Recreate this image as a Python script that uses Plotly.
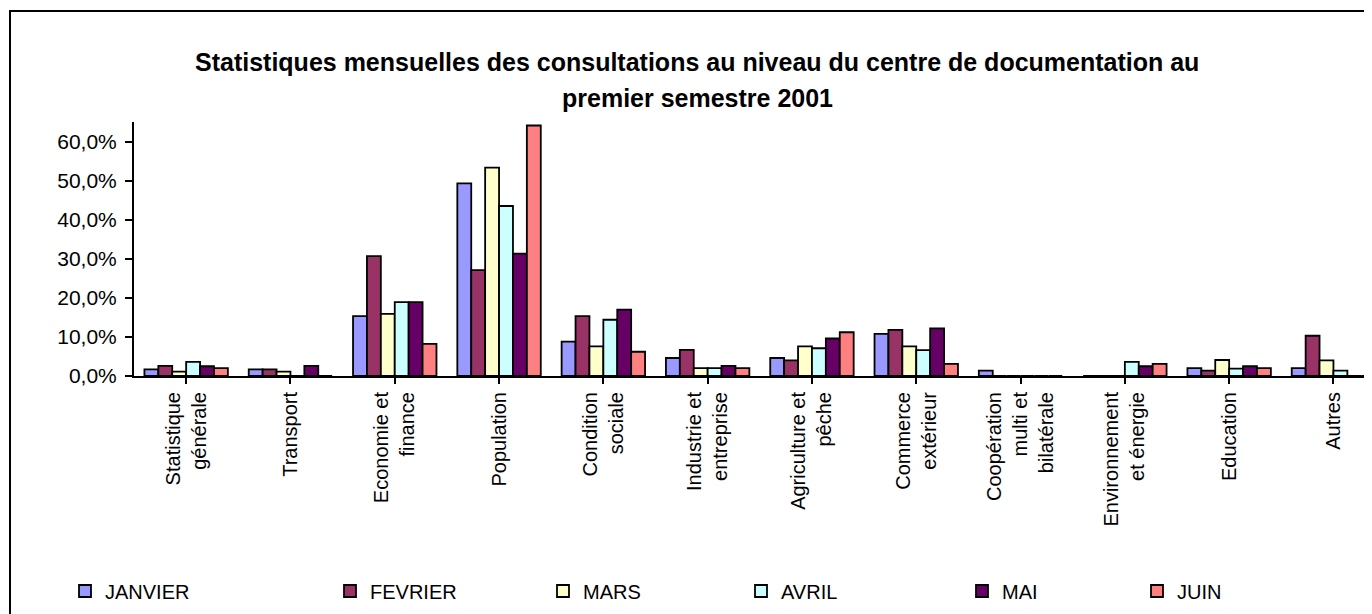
import plotly.graph_objects as go

categories = [
    "Statistique<br>générale", "Transport", "Economie et<br>finance", "Population",
    "Condition<br>sociale", "Industrie et<br>entreprise", "Agriculture et<br>pêche",
    "Commerce<br>extérieur", "Coopération<br>multi et<br>bilatérale",
    "Environnement<br>et énergie", "Education", "Autres",
]

janvier = [1.7, 1.7, 15.3, 49.3, 8.8, 4.6, 4.6, 10.8, 1.4, 0.0, 2.0, 2.0]
fevrier = [2.6, 1.7, 30.7, 27.1, 15.3, 6.7, 4.0, 11.8, 0.0, 0.0, 1.4, 10.3]
mars    = [1.1, 1.1, 15.9, 53.3, 7.6, 2.0, 7.6, 7.6, 0.0, 0.0, 4.1, 4.0]
avril   = [3.6, 0.0, 18.9, 43.5, 14.4, 2.0, 7.1, 6.6, 0.0, 3.6, 1.9, 1.4]
mai     = [2.5, 2.6, 18.9, 31.3, 17.0, 2.6, 9.6, 12.2, 0.0, 2.5, 2.5, 0.0]
juin    = [2.0, 0.0, 8.2, 64.1, 6.2, 2.0, 11.2, 3.1, 0.0, 3.1, 2.0, 0.0]

series_names = ["JANVIER", "FEVRIER", "MARS", "AVRIL", "MAI", "JUIN"]
series_values = [janvier, fevrier, mars, avril, mai, juin]
colors = ["#9999FF", "#993366", "#FFFFCC", "#CCFFFF", "#660066", "#FF8080"]

y_ticks = [0, 10, 20, 30, 40, 50, 60]
y_ticktext = [f"{v:.1f}%".replace(".", ",") for v in y_ticks]

title_line1 = "Statistiques mensuelles des consultations au niveau du centre de documentation au"
title_line2 = "premier semestre 2001"

FONT = "Arial, Liberation Sans, sans-serif"

OFF = 8  # page body margin
W, H = 1372 - OFF, 614 - OFF
L = 134 - OFF
T = 122 - OFF
B = H - (376 - OFF)
plot_w = W - L
plot_h = H - T - B
cat_w = 104.3

def px_x(x):
    return (x - OFF - L) / plot_w

def px_y(y):
    return (H - B - (y - OFF)) / plot_h

fig = go.Figure()
for i, (name, vals, col) in enumerate(zip(series_names, series_values, colors)):
    lg = "legend" if i == 0 else f"legend{i+1}"
    fig.add_trace(go.Bar(
        x=list(range(len(categories))), y=vals, name=name,
        marker=dict(color=col, line=dict(color="black", width=1.8)),
        legend=lg,
    ))

legend_x_px = [65, 330, 543, 741, 962, 1137]
layout_legends = {}
for i, xp in enumerate(legend_x_px):
    key = "legend" if i == 0 else f"legend{i+1}"
    layout_legends[key] = dict(
        x=px_x(xp), y=px_y(591), xanchor="left", yanchor="middle",
        orientation="h", bgcolor="rgba(0,0,0,0)",
        font=dict(family=FONT, size=20, color="black"),
        itemwidth=30,
    )

fig.update_layout(
    width=W, height=H,
    margin=dict(l=L, r=0, t=T, b=B, pad=0),
    paper_bgcolor="white", plot_bgcolor="white",
    barmode="group", bargap=0.2, bargroupgap=0,
    font=dict(family=FONT, size=18, color="black"),
    xaxis=dict(
        tickmode="array", tickvals=list(range(len(categories))), ticktext=categories,
        range=[-0.5, -0.5 + plot_w / cat_w],
        tickangle=-90, ticks="outside", tickson="boundaries", ticklen=6,
        tickwidth=1.5, tickcolor="black",
        showline=True, linecolor="black", linewidth=2,
        showgrid=False, zeroline=False,
        tickfont=dict(family=FONT, size=20, color="black"),
    ),
    yaxis=dict(
        range=[0, 65], tickmode="array", tickvals=y_ticks, ticktext=y_ticktext,
        ticks="outside", ticklen=7, tickwidth=1.5, tickcolor="black",
        ticklabelstandoff=4,
        showline=True, linecolor="black", linewidth=2,
        showgrid=False, zeroline=False,
        tickfont=dict(family=FONT, size=21, color="black"),
    ),
    showlegend=True,
    **layout_legends,
)

fig.add_annotation(text=f"<b>{title_line1}</b>", x=px_x(697), y=px_y(62),
                   xref="paper", yref="paper", xanchor="center", yanchor="middle",
                   showarrow=False, font=dict(family=FONT, size=25, color="black"))
fig.add_annotation(text=f"<b>{title_line2}</b>", x=px_x(697), y=px_y(98),
                   xref="paper", yref="paper", xanchor="center", yanchor="middle",
                   showarrow=False, font=dict(family=FONT, size=25, color="black"))

fig.add_shape(type="rect", xref="paper", yref="paper",
              x0=px_x(10), y0=px_y(640), x1=px_x(1400), y1=px_y(11),
              line=dict(color="black", width=2), fillcolor="rgba(0,0,0,0)", layer="below")

fig.write_html("out.html")
